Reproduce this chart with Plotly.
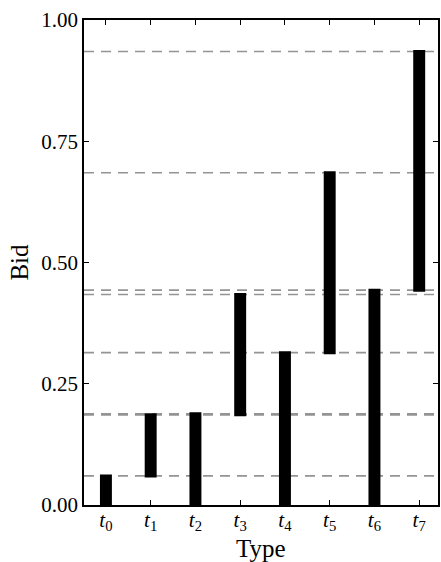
import plotly.graph_objects as go

# Bid interval [low, high] for each type
types = ["t0", "t1", "t2", "t3", "t4", "t5", "t6", "t7"]
tick_labels = ["<i>t</i><sub>%d</sub>" % i for i in range(8)]
bid_low = [0.0, 0.06, 0.0, 0.186, 0.0, 0.314, 0.0, 0.443]
bid_high = [0.06, 0.186, 0.188, 0.434, 0.314, 0.685, 0.443, 0.935]

y_ticks = [0.0, 0.25, 0.5, 0.75, 1.0]

FONT = "Liberation Serif"

fig = go.Figure()

# Dashed reference levels at each interval's upper bound
shapes = []
for level in bid_high:
    shapes.append(dict(
        type="line", xref="paper", x0=0, x1=1, yref="y", y0=level, y1=level,
        line=dict(color="#949494", width=1.7, dash="10px,7px"), layer="below",
    ))

fig.add_trace(go.Bar(
    x=types,
    y=[h - l for l, h in zip(bid_low, bid_high)],
    base=bid_low,
    width=0.2,
    marker=dict(color="black", line=dict(color="black", width=3)),
    hoverinfo="skip",
))

fig.update_layout(
    width=441, height=562,
    margin=dict(l=84, r=1, t=20, b=57),
    plot_bgcolor="white", paper_bgcolor="white",
    showlegend=False,
    shapes=shapes,
    font=dict(family=FONT, size=21, color="black"),
    xaxis=dict(
        type="category",
        range=[-0.49, 7.42],
        tickmode="array", tickvals=types, ticktext=tick_labels,
        ticks="inside", ticklen=5, tickcolor="black", tickwidth=1,
        showline=True, linecolor="black", linewidth=1.5, mirror="ticks",
        showgrid=False, zeroline=False,
        tickfont=dict(family=FONT, size=21),
        ticklabelstandoff=-5,
    ),
    yaxis=dict(
        range=[0, 1],
        tickmode="array", tickvals=y_ticks,
        ticktext=["%.2f" % v for v in y_ticks],
        ticks="inside", ticklen=5, tickcolor="black", tickwidth=1,
        showline=True, linecolor="black", linewidth=1.5, mirror="ticks",
        showgrid=False, zeroline=False,
        tickfont=dict(family=FONT, size=21),
        title=dict(text="Bid", font=dict(family=FONT, size=25), standoff=6),
    ),
    annotations=[dict(
        text="Type", xref="paper", yref="paper", x=0.5, y=0,
        xanchor="center", yanchor="middle", yshift=-43, showarrow=False,
        borderpad=0, font=dict(family=FONT, size=25),
    )],
)

fig.write_html("out.html")
